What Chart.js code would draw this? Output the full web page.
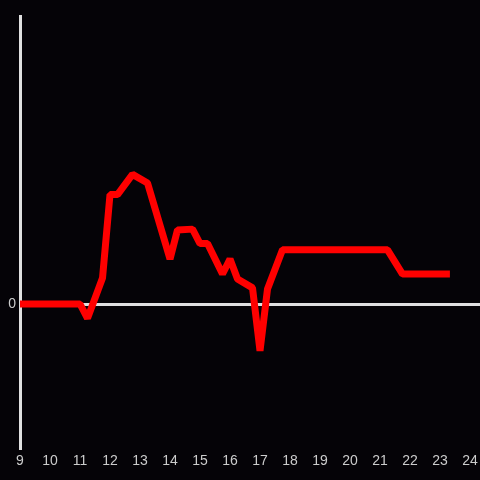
<!DOCTYPE html>
<html>
<head>
<meta charset="utf-8">
<script src="https://cdn.jsdelivr.net/npm/chart.js@4"></script>
<style>
  html, body { margin: 0; padding: 0; background: #050307; }
  #wrap { width: 480px; height: 480px; }
</style>
</head>
<body>
<div id="wrap"><canvas id="c"></canvas></div>
<script>
// Hours of day vs. value.
const hours = [9, 11.0, 11.25, 11.75, 12.0, 12.25, 12.75, 13.25, 14.0, 14.25, 14.75, 15.0, 15.25,
  15.75, 16.0, 16.25, 16.75, 17.0, 17.25, 17.75, 21.25, 21.75, 23.33];
const values = [0, 0, -5, 9, 38, 38, 45, 42, 15.6, 25.7, 26, 21, 21,
  10.4, 15.6, 8.7, 5.6, -16.3, 5.2, 18.8, 18.8, 10.4, 10.4];
const xTicks = [9, 10, 11, 12, 13, 14, 15, 16, 17, 18, 19, 20, 21, 22, 23, 24];
const yTicks = [0];

const axisColor = '#e0e0e0';
const labelColor = '#cccccc';
const font = { family: 'Liberation Sans, Arial, sans-serif', size: 14 };

new Chart(document.getElementById('c'), {
  type: 'line',
  data: {
    datasets: [{
      data: hours.map((h, i) => ({ x: h, y: values[i] })),
      borderColor: '#ff0000',
      borderWidth: 7,
      borderJoinStyle: 'bevel',
      pointRadius: 0,
      tension: 0,
      fill: false,
    }],
  },
  options: {
    responsive: true,
    maintainAspectRatio: false,
    animation: false,
    layout: { padding: { top: 16, right: 0, left: 0, bottom: 0 } },
    plugins: { legend: { display: false }, tooltip: { enabled: false } },
    scales: {
      x: {
        type: 'linear',
        min: 9,
        max: 24.333,
        afterBuildTicks: (s) => { s.ticks = xTicks.map((v) => ({ value: v })); },
        afterFit: (s) => { s.height = 32; s.paddingLeft = 0; s.paddingRight = 0; },
        grid: { display: false, drawTicks: false },
        border: { display: false },
        ticks: { color: labelColor, font, padding: 5, maxRotation: 0, autoSkip: false },
      },
      y: {
        min: -50,
        max: 100,
        afterBuildTicks: (s) => { s.ticks = yTicks.map((v) => ({ value: v })); },
        afterFit: (s) => { s.width = 20; },
        grid: { color: axisColor, lineWidth: 3, drawTicks: false },
        border: { display: true, color: axisColor, width: 3 },
        ticks: { color: labelColor, font, padding: 4 },
      },
    },
  },
});
</script>
</body>
</html>
